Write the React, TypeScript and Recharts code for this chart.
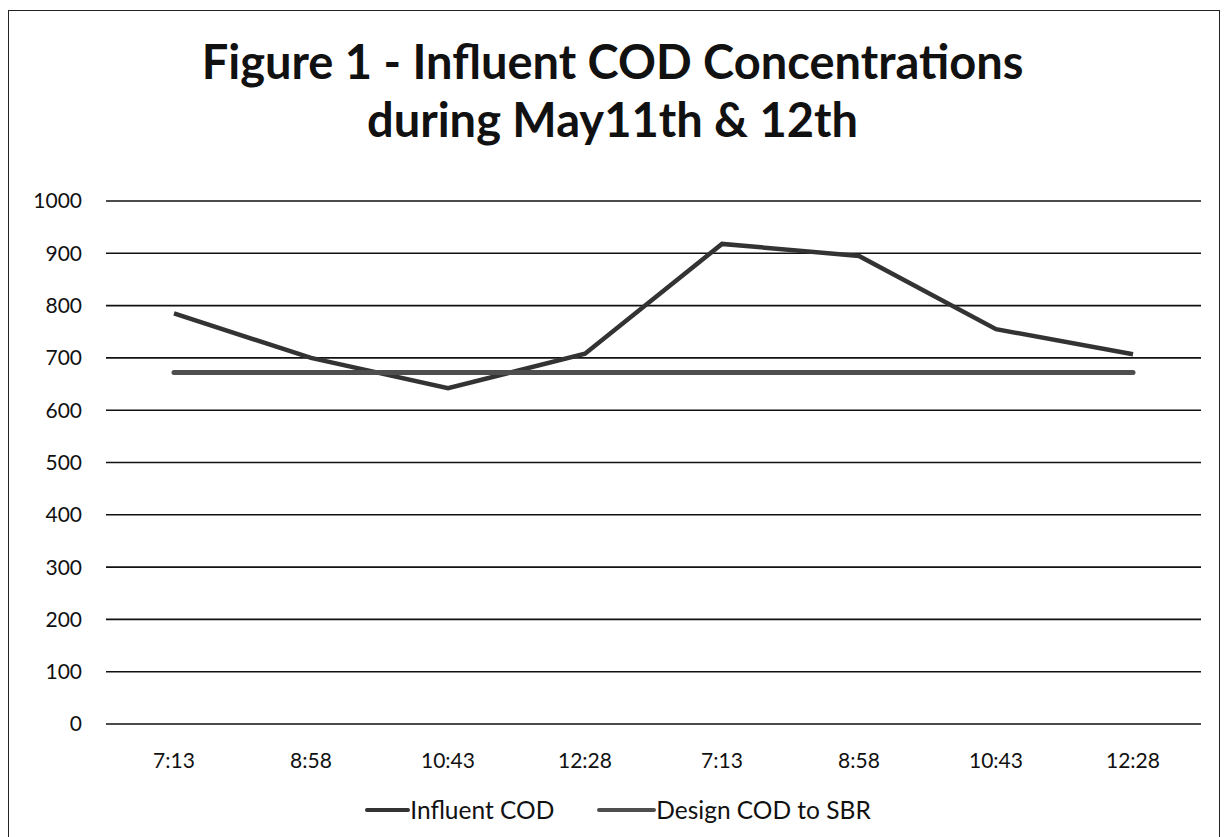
import React from 'react';
import { LineChart, Line, XAxis, YAxis, CartesianGrid, Legend } from 'recharts';

const TIMES = ['7:13', '8:58', '10:43', '12:28', '7:13', '8:58', '10:43', '12:28'];
const INFLUENT_COD = [785, 700, 642, 708, 918, 895, 755, 707];
const DESIGN_COD = [672, 672, 672, 672, 672, 672, 672, 672];
const Y_TICKS = [0, 100, 200, 300, 400, 500, 600, 700, 800, 900, 1000];
const SERIES_ORDER = ['Influent COD', 'Design COD to SBR'];

const FONT = 'Lato, "Open Sans", sans-serif';

const data = TIMES.map((t, i) => ({
  time: t,
  influent: INFLUENT_COD[i],
  design: DESIGN_COD[i],
}));

function LegendContent(props: any) {
  const items = [...(props.payload || [])].sort(
    (a: any, b: any) => SERIES_ORDER.indexOf(a.value) - SERIES_ORDER.indexOf(b.value)
  );
  return (
    <div
      style={{
        display: 'flex',
        justifyContent: 'center',
        gap: 42,
        fontFamily: FONT,
        fontSize: 24.5,
        color: '#111',
        paddingLeft: 34,
        paddingTop: 9,
      }}
    >
      {items.map((it: any, i: number) => (
        <div key={it.value} style={{ display: 'flex', alignItems: 'center' }}>
          <svg width={i === 0 ? 46 : 60} height={10}>
            <line x1={3} y1={5} x2={i === 0 ? 44 : 58} y2={5} stroke={it.color} strokeWidth={4} strokeLinecap="round" />
          </svg>
          <span>{it.value}</span>
        </div>
      ))}
    </div>
  );
}

export default function App() {
  return (
    <div style={{ position: 'fixed', left: 0, top: 0, width: 1225, height: 837, background: '#fff' }}>
      <div
        style={{
          position: 'absolute',
          left: 8,
          top: 10,
          width: 1210,
          height: 840,
          border: '1.5px solid #222',
        }}
      />
      <div
        style={{
          position: 'absolute',
          left: 0,
          top: 32,
          width: 1225,
          textAlign: 'center',
          fontFamily: FONT,
          fontWeight: 700,
          fontSize: 47,
          lineHeight: '58px',
          color: '#111',
        }}
      >
        Figure 1 - Influent COD Concentrations
        <br />
        during May11th &amp; 12th
      </div>
      <div style={{ position: 'absolute', left: 0, top: 0 }}>
        <LineChart width={1225} height={837} data={data} margin={{ top: 201, right: 24, bottom: 6, left: 0 }}>
          <CartesianGrid vertical={false} stroke="#111" strokeWidth={1.6} />
          <XAxis
            dataKey="time"
            interval={0}
            axisLine={false}
            tickLine={false}
            tickSize={0}
            tickMargin={29}
            height={62}
            padding={{ left: 68, right: 68 }}
            tick={{ fontSize: 21, fill: '#111', fontFamily: FONT }}
            allowDuplicatedCategory={true}
          />
          <YAxis
            domain={[0, 1000]}
            ticks={Y_TICKS}
            axisLine={false}
            tickLine={false}
            tickSize={0}
            tickMargin={24}
            width={106}
            tick={{ fontSize: 21, fill: '#111', fontFamily: FONT }}
          />
          <Legend verticalAlign="bottom" height={45} content={<LegendContent />} />
          <Line
            type="linear"
            dataKey="influent"
            name="Influent COD"
            stroke="#333"
            strokeWidth={4.5}
            dot={false}
            activeDot={false}
            isAnimationActive={false}
          />
          <Line
            type="linear"
            dataKey="design"
            name="Design COD to SBR"
            stroke="#4e4e4e"
            strokeWidth={5}
            strokeLinecap="round"
            dot={false}
            activeDot={false}
            isAnimationActive={false}
          />
        </LineChart>
      </div>
    </div>
  );
}
